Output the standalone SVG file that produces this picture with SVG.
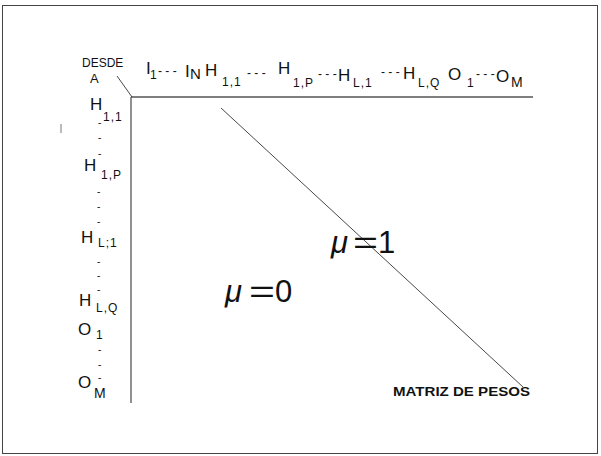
<svg xmlns="http://www.w3.org/2000/svg" width="601" height="456" viewBox="0 0 601 456">
<style>
.t{font-family:"Liberation Sans",Arial,sans-serif;fill:#111}
.m{font-size:17px}
.s{font-size:12px;letter-spacing:1px}
.d{font-size:12px}
.v{font-size:10px}
.mu{font-family:"Liberation Sans",Arial,sans-serif;font-size:31px;fill:#111}
.ln{stroke:#333;fill:none}
</style>
<rect x="2.5" y="5.5" width="595" height="448" fill="#fff" stroke="#444" stroke-width="1"/>
<g id="axes" class="ln">
<line x1="131" y1="97" x2="533" y2="97" stroke="#555" stroke-width="1.6"/>
<line x1="131" y1="97" x2="131" y2="403" stroke="#555" stroke-width="1.3"/>
<line x1="117" y1="76" x2="132" y2="97" stroke-width="0.9"/>
<line x1="61" y1="124" x2="61" y2="133" stroke="#777" stroke-width="1"/>
</g>
<g id="connectors" class="ln">
<line x1="221" y1="108" x2="523" y2="387" stroke-width="0.9"/>
</g>
<g id="corner" class="t">
<text x="82" y="67" font-size="12">DESDE</text>
<text x="90" y="83" font-size="13">A</text>
</g>
<g id="top-row" class="t">
<text class="m" x="146" y="74">I</text><text class="s" x="150" y="79">1</text>
<text class="d" x="158" y="75">- - -</text>
<text class="m" x="185" y="77">I</text><text font-size="15" x="190" y="79">N</text>
<text class="m" x="205" y="76">H</text><text class="s" x="222" y="86">1,1</text>
<text class="d" x="247" y="77">- - -</text>
<text class="m" x="278" y="74">H</text><text class="s" x="293" y="87">1,P</text>
<text class="d" x="318" y="78">- - -</text>
<text class="m" x="338" y="81">H</text><text class="s" x="353" y="87">L,1</text>
<text class="d" x="381" y="76">- - -</text>
<text class="m" x="403" y="79">H</text><text class="s" x="418" y="87">L,Q</text>
<text class="m" x="448" y="80">O</text><text class="s" x="467" y="87">1</text>
<text class="d" x="476" y="78">- - -</text>
<text class="m" x="496" y="82">O</text><text font-size="14" x="511" y="87">M</text>
</g>
<g id="left-col" class="t">
<text class="m" x="90" y="110">H</text><text class="s" x="103" y="121">1,1</text>
<text class="v" x="98" y="126">-</text>
<text class="v" x="98" y="141">-</text>
<text class="v" x="98" y="157">-</text>
<text class="m" x="84" y="171">H</text><text class="s" x="101" y="179">1,P</text>
<text class="v" x="97" y="195">-</text>
<text class="v" x="97" y="210">-</text>
<text class="v" x="97" y="225">-</text>
<text class="m" x="81" y="243">H</text><text class="s" x="98" y="247">L;1</text>
<text class="v" x="97" y="265">-</text>
<text class="v" x="97" y="279">-</text>
<text class="v" x="97" y="293">-</text>
<text class="m" x="79" y="306">H</text><text class="s" x="96" y="312">L,Q</text>
<text class="m" x="78" y="335">O</text><text class="s" x="96" y="339">1</text>
<text class="v" x="98" y="353">-</text>
<text class="v" x="98" y="368">-</text>
<text class="m" x="78" y="388">O</text><text class="v" x="98" y="381">-</text><text font-size="14" x="94" y="398">M</text>
</g>
<g id="mu1">
<text class="mu" x="331" y="253" font-style="italic">μ</text>
<text class="mu" x="353" y="253" textLength="25" lengthAdjust="spacingAndGlyphs">=</text>
<text class="mu" x="378" y="253">1</text>
</g>
<g id="mu0">
<text class="mu" x="225" y="302" font-style="italic">μ</text>
<text class="mu" x="249" y="302" textLength="26" lengthAdjust="spacingAndGlyphs">=</text>
<text class="mu" x="275" y="302">0</text>
</g>
<g id="title">
<text x="393" y="396" font-family="Liberation Sans,Arial,sans-serif" font-weight="bold" font-size="13" textLength="137" lengthAdjust="spacingAndGlyphs" fill="#111">MATRIZ DE PESOS</text>
</g>
</svg>
